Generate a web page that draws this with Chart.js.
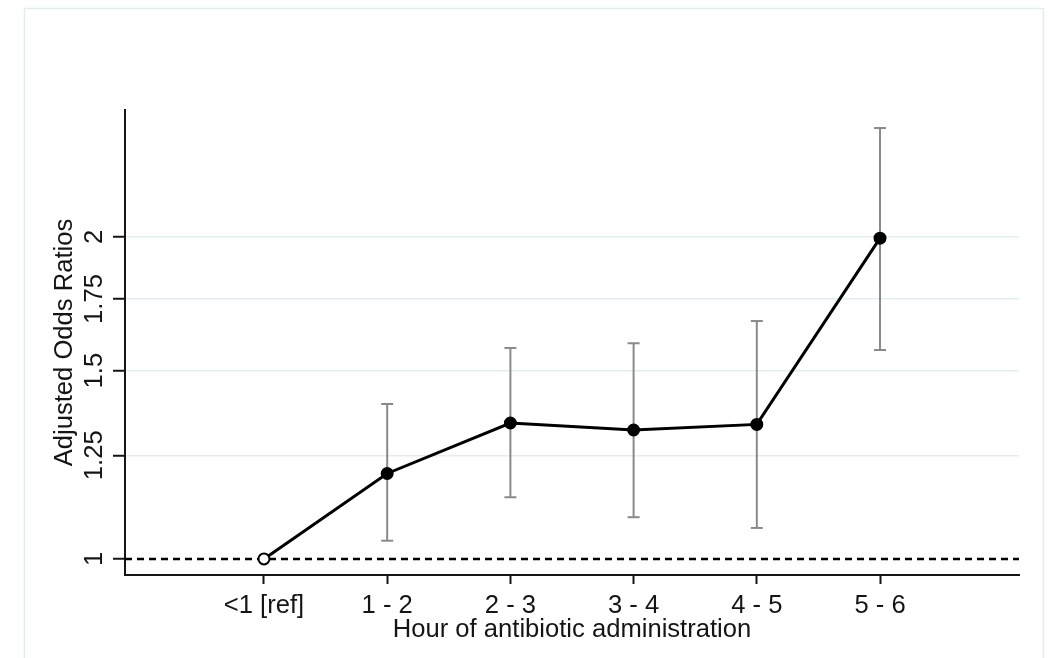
<!DOCTYPE html>
<html lang="en">
<head>
<meta charset="UTF-8">
<title>Adjusted Odds Ratios by hour of antibiotic administration</title>
<script src="https://cdn.jsdelivr.net/npm/chart.js"></script>
<style>
    body { margin: 0; background: #fff; }
    #wrap { width: 1048px; height: 658px; }
</style>
</head>
<body>
<div id="wrap"><canvas id="orChart" width="1048" height="658"></canvas></div>
<script>
    // values (log scale y)
    const hours = ['<1 [ref]', '1 - 2', '2 - 3', '3 - 4', '4 - 5', '5 - 6'];
    const oddsRatios = [1.00, 1.202, 1.340, 1.320, 1.336, 1.995];
    const ciLower = [null, 1.040, 1.142, 1.094, 1.069, 1.568];
    const ciUpper = [null, 1.396, 1.575, 1.591, 1.669, 2.529];
    const yTicks = [1, 1.25, 1.5, 1.75, 2];
    const yLabels = ['1', '1.25', '1.5', '1.75', '2'];
    const refValue = 1;

    const FONT = "'Liberation Sans', Arial, sans-serif";
    const FSIZE = 25.6;
    const INK = '#151515';

    const mainPoints = oddsRatios.map((v, i) => ({x: i, y: v}));

    // error bars: lower, upper, gap
    const ciPoints = [];
    hours.forEach((h, i) => {
        if (ciLower[i] == null) return;
        ciPoints.push({x: i, y: ciLower[i]}, {x: i, y: ciUpper[i]}, {x: i, y: null});
    });

    // light frame round the whole graph
    const frame = {
        id: 'frame',
        beforeDraw(chart) {
            const ctx = chart.ctx;
            ctx.save();
            ctx.fillStyle = '#fff';
            ctx.fillRect(0, 0, chart.width, chart.height);
            ctx.strokeStyle = '#e3edf0';
            ctx.lineWidth = 1.5;
            ctx.strokeRect(24.5, 8.5, 1019, 700);
            ctx.restore();
        }
    };

    // y tick labels are turned like in Stata
    const yTickLabels = {
        id: 'yTickLabels',
        afterDraw(chart) {
            const ctx = chart.ctx, ys = chart.scales.y;
            ctx.save();
            ctx.font = FSIZE + 'px ' + FONT;
            ctx.fillStyle = INK;
            ctx.textAlign = 'center';
            ctx.textBaseline = 'middle';
            yTicks.forEach((v, i) => {
                ctx.save();
                ctx.translate(ys.right - 30, ys.getPixelForValue(v));
                ctx.rotate(-Math.PI / 2);
                ctx.fillText(yLabels[i], 0, 0);
                ctx.restore();
            });
            ctx.restore();
        }
    };

    new Chart(document.getElementById('orChart'), {
        type: 'line',
        data: {
            datasets: [
                {
                    data: mainPoints,
                    borderColor: '#000',
                    borderWidth: 3,
                    pointRadius: 5.5,
                    pointBorderWidth: 2,
                    pointBorderColor: '#000',
                    pointBackgroundColor: oddsRatios.map((v, i) => i === 0 ? '#fff' : '#000'),
                    order: 0
                },
                {
                    data: ciPoints,
                    borderColor: '#8a8a8a',
                    borderWidth: 2,
                    spanGaps: false,
                    pointStyle: 'line',
                    pointRadius: 6,
                    pointBorderWidth: 2,
                    pointBorderColor: '#8a8a8a',
                    order: 1
                },
                {
                    data: [{x: -1.128, y: refValue}, {x: 6.128, y: refValue}],
                    borderColor: '#000',
                    borderWidth: 2.5,
                    borderDash: [7, 5],
                    pointRadius: 0,
                    order: 2
                }
            ]
        },
        options: {
            responsive: false,
            devicePixelRatio: 1,
            animation: false,
            layout: { padding: { top: 110, right: 29, left: 0, bottom: 0 } },
            plugins: { legend: { display: false }, tooltip: { enabled: false } },
            scales: {
                x: {
                    type: 'linear',
                    min: -1.128,
                    max: 6.128,
                    afterBuildTicks: s => { s.ticks = hours.map((h, i) => ({value: i})); },
                    afterFit: s => { s.height = 83; },
                    ticks: {
                        callback: v => hours[v],
                        font: { family: FONT, size: FSIZE },
                        color: INK,
                        padding: 7,
                        autoSkip: false,
                        maxRotation: 0
                    },
                    grid: { drawOnChartArea: false, tickLength: 9, tickColor: INK, tickWidth: 2 },
                    border: { color: INK, width: 2 },
                    title: {
                        display: true,
                        text: 'Hour of antibiotic administration',
                        font: { family: FONT, size: FSIZE },
                        color: INK,
                        padding: { top: 0, bottom: 13 }
                    }
                },
                y: {
                    type: 'logarithmic',
                    min: 0.966,
                    max: 2.629,
                    afterBuildTicks: s => { s.ticks = yTicks.map(v => ({value: v})); },
                    afterFit: s => { s.width = 125; },
                    ticks: { display: false },
                    grid: {
                        color: c => (c.tick && c.tick.value === refValue) ? 'rgba(0,0,0,0)' : '#e3eef0',
                        lineWidth: 1.5,
                        tickLength: 12,
                        tickColor: INK,
                        tickWidth: 2
                    },
                    border: { color: INK, width: 2 },
                    title: {
                        display: true,
                        text: 'Adjusted Odds Ratios',
                        font: { family: FONT, size: FSIZE },
                        color: INK,
                        padding: { top: 50, bottom: 0 }
                    }
                }
            }
        },
        plugins: [frame, yTickLabels]
    });
</script>
</body>
</html>
